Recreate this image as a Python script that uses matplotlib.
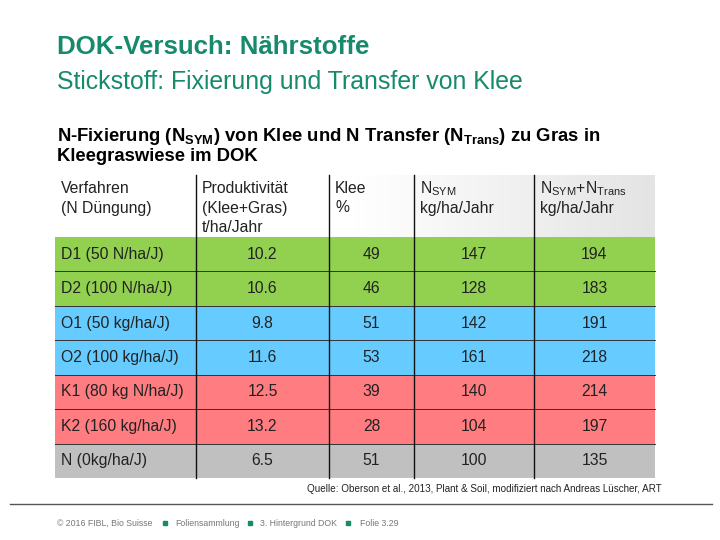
#
# DOK-Versuch: Stickstoff-Fixierung und Transfer von Klee (Tabellenfolie)
#

import numpy as np
from matplotlib import pyplot as plt
from matplotlib.colors import LinearSegmentedColormap

plt.rcParams['font.family'] = ['Liberation Sans', 'DejaVu Sans']
plt.rcParams['mathtext.fontset'] = 'custom'
plt.rcParams['mathtext.rm'] = 'Liberation Sans'
plt.rcParams['mathtext.bf'] = 'Liberation Sans:bold'

# Tabellendaten
verfahren = ["D1 (50 N/ha/J)", "D2 (100 N/ha/J)", "O1 (50 kg/ha/J)",
             "O2 (100 kg/ha/J)", "K1 (80 kg N/ha/J)", "K2 (160 kg/ha/J)",
             "N (0kg/ha/J)"]
produktivitaet = [10.2, 10.6, 9.8, 11.6, 12.5, 13.2, 6.5]
klee = [49, 46, 51, 53, 39, 28, 51]
n_sym = [147, 128, 142, 161, 140, 104, 100]
n_sym_trans = [194, 183, 191, 218, 214, 197, 135]
zeilen_farben = ["#92d050", "#92d050", "#66ccff", "#66ccff",
                 "#ff7c80", "#ff7c80", "#c0c0c0"]

kopf = [["Verfahren", "(N Düngung)"],
        ["Produktivität", "(Klee+Gras)", "t/ha/Jahr"],
        ["Klee", "%"],
        [r"N$_{\mathregular{SYM}}$", "kg/ha/Jahr"],
        [r"N$_{\mathregular{SYM}}$+N$_{\mathregular{Trans}}$", "kg/ha/Jahr"]]

teal = "#178a6c"
fs = 11.3

fig = plt.figure(figsize=(7.2, 5.4), dpi=100)
ax = fig.add_axes([0, 0, 1, 1])
ax.set_xlim(0, 720)
ax.set_ylim(540, 0)
ax.axis("off")

# Titel
ax.text(57, 47, "DOK-Versuch: Nährstoffe", fontsize=18.6, fontweight="bold",
        color=teal, va="center")
ax.text(57, 82, "Stickstoff: Fixierung und Transfer von Klee", fontsize=17.9,
        color=teal, va="center")
ax.text(57, 141, r"N-Fixierung ($\mathbf{N_{SYM}}$) von Klee und N Transfer "
        r"($\mathbf{N_{Trans}}$) zu Gras in", fontsize=13.3, fontweight="bold",
        va="baseline")
ax.text(57, 161, "Kleegraswiese im DOK", fontsize=13.3, fontweight="bold",
        va="baseline")

# Tabelle
x_col = [55, 196, 329, 414, 534, 655]
y_kopf = 175
y_top = 237
y_bot = 478
n = len(verfahren)
row_h = (y_bot - y_top) / n

# Kopfzeile mit Verlauf
grad = np.linspace(0, 1, 256).reshape(1, -1)
ax.imshow(grad, extent=[x_col[0], x_col[-1], y_top, y_kopf], aspect="auto",
          cmap=LinearSegmentedColormap.from_list(
              "kopf", ["#ffffff", "#ffffff", "#e4e4e4"]), zorder=0)

for j, lines in enumerate(kopf):
    for k, s in enumerate(lines):
        ax.text(x_col[j] + 6, 193 + 19.5 * k, s, fontsize=fs,
                color="#222222", va="baseline")

for i in range(n):
    y0 = y_top + i * row_h
    ax.add_patch(plt.Rectangle((x_col[0], y0), x_col[-1] - x_col[0], row_h,
                               facecolor=zeilen_farben[i], edgecolor="none",
                               zorder=1))
    yc = y0 + row_h / 2
    ax.text(x_col[0] + 6, yc, verfahren[i], fontsize=fs, va="center",
            color="#222222", zorder=3)
    werte = ["%.1f" % produktivitaet[i], str(klee[i]), str(n_sym[i]),
             str(n_sym_trans[i])]
    for j, w in enumerate(werte):
        ax.text((x_col[j + 1] + x_col[j + 2]) / 2, yc, w, fontsize=fs,
                ha="center", va="center", color="#222222", zorder=3)
    if i > 0:
        ax.plot([x_col[0], x_col[-1]], [y0, y0], color="#333333", lw=0.7,
                zorder=2)

for x in x_col[1:-1]:
    ax.plot([x, x], [y_kopf, y_bot], color="#111111", lw=1.0, zorder=2)

# Quelle
ax.text(662, 489, "Quelle: Oberson et al., 2013, Plant & Soil, modifiziert "
        "nach Andreas Lüscher, ART", fontsize=7.1, ha="right", va="center",
        color="#222222")

# Fusszeile
ax.plot([10, 712], [504, 504], color="#555555", lw=1.0)
teile = [(57, "© 2016 FIBL, Bio Suisse"), (175, "Foliensammlung"),
         (260, "3. Hintergrund DOK"), (360, "Folie 3.29")]
for x, s in teile:
    ax.text(x, 523, s, fontsize=6.3, color="#777777", va="center")
ax.plot([165, 250, 348], [523, 523, 523], ls="none", marker="s", ms=2.5,
        color=teal)

plt.savefig("out.png", dpi=100)
